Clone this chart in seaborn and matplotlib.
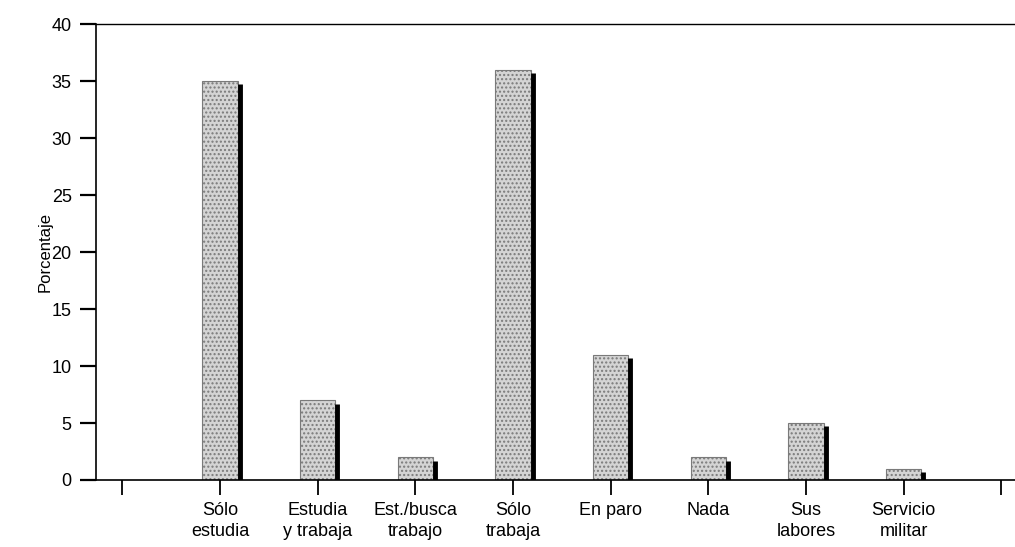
import matplotlib
matplotlib.use("Agg")
import matplotlib.pyplot as plt
import seaborn as sns
import pandas as pd
import numpy as np

categorias = ["Sólo\nestudia", "Estudia\ny trabaja", "Est./busca\ntrabajo", "Sólo\ntrabaja",
              "En paro", "Nada", "Sus\nlabores", "Servicio\nmilitar"]
porcentajes = [35, 7, 2, 36, 11, 2, 5, 1]
y_ticks = [0, 5, 10, 15, 20, 25, 30, 35, 40]

sns.set_theme(style="white")
plt.rcParams['font.family'] = ['Liberation Sans', 'DejaVu Sans']
plt.rcParams['text.color'] = 'black'
plt.rcParams['axes.labelcolor'] = 'black'
plt.rcParams['xtick.color'] = 'black'
plt.rcParams['ytick.color'] = 'black'

df = pd.DataFrame({"pos": np.arange(1, len(categorias) + 1), "cat": categorias, "val": porcentajes})

fig = plt.figure(figsize=(10.15, 5.47), dpi=100)
ax = fig.add_axes([0.0946, 0.1225, 0.9054, 0.8335])

ax.bar(df["pos"], df["val"], width=0.36, color="#d4d4d4", edgecolor="#7a7a7a",
       hatch="....", linewidth=0.8, zorder=2)
# dark shadow on right side of each bar
shadow_x = df["pos"] + 0.18 + 0.02
ax.vlines(shadow_x, 0, np.array(porcentajes) - 0.3, color="black", linewidth=3.5, zorder=3)

ax.set_xlim(-0.27, 9.14)
ax.set_ylim(0, 40)
ax.set_xticks(list(range(0, 10)))
ax.set_xticklabels([""] + categorias + [""], fontsize=13, linespacing=1.3)
ax.set_yticks(y_ticks)
ax.set_yticklabels([str(t) for t in y_ticks], fontsize=13)
ax.set_ylabel("Porcentaje", fontsize=12)
ax.yaxis.set_label_coords(-0.047, 0.5)

for s in ["left", "bottom", "top"]:
    ax.spines[s].set_visible(True)
    ax.spines[s].set_color("black")
ax.spines["left"].set_linewidth(1.2)
ax.spines["bottom"].set_linewidth(1.2)
ax.spines["top"].set_linewidth(1.0)
ax.spines["right"].set_visible(False)

ax.tick_params(axis="x", bottom=True, direction="out", length=11, width=1.3, pad=5)
ax.tick_params(axis="y", left=True, direction="out", length=11.5, width=1.6, pad=6)
ax.grid(False)

fig.savefig("out.png", dpi=100)
